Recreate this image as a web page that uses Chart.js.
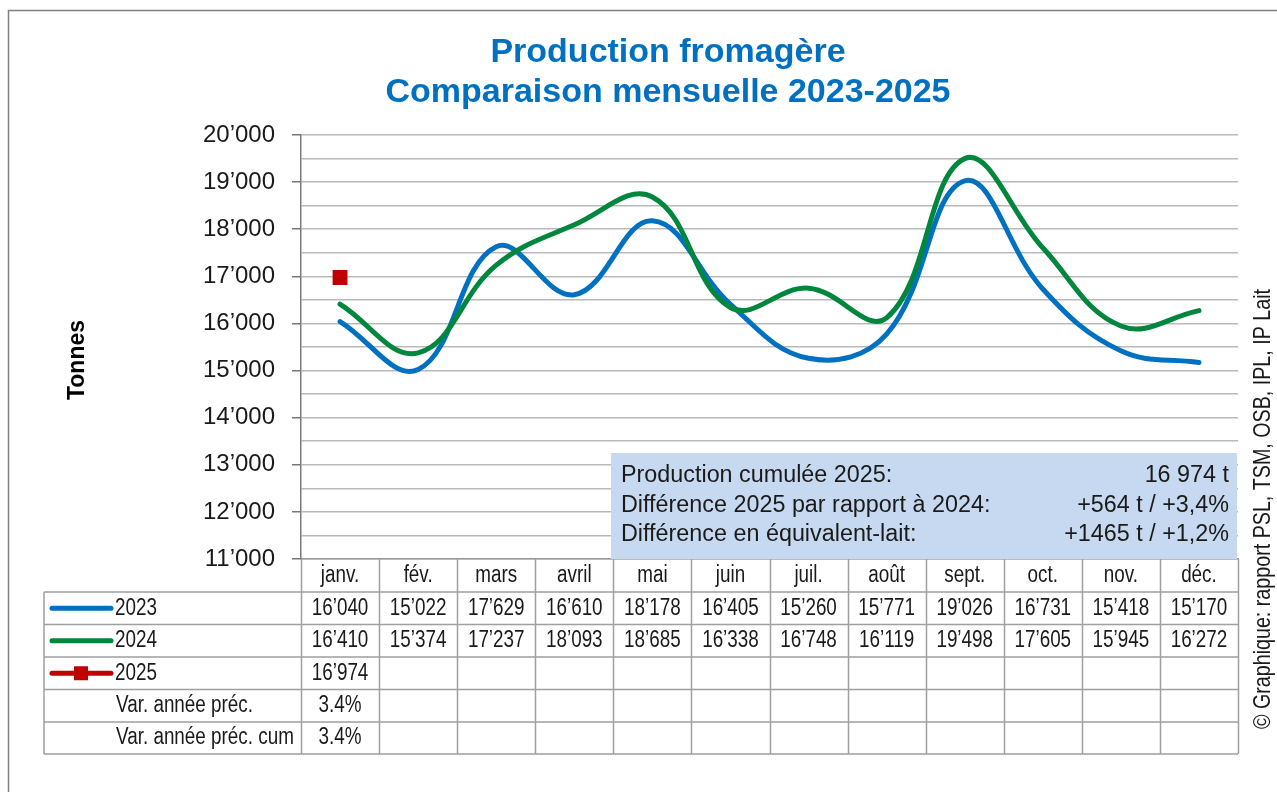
<!DOCTYPE html>
<html>
<head>
<meta charset="utf-8">
<script src="https://cdn.jsdelivr.net/npm/chart.js@4.4.1/dist/chart.umd.min.js"></script>
<style>
  html, body { margin: 0; padding: 0; background: #ffffff; }
  #wrap { width: 1277px; height: 792px; position: relative; }
</style>
</head>
<body>
<div id="wrap"><canvas id="c" width="1277" height="792"></canvas></div>
<script>
// ---------- DATA ----------
const months = ['janv.', 'fév.', 'mars', 'avril', 'mai', 'juin', 'juil.', 'août', 'sept.', 'oct.', 'nov.', 'déc.'];
const prod2023 = [16040, 15022, 17629, 16610, 18178, 16405, 15260, 15771, 19026, 16731, 15418, 15170];
const prod2024 = [16410, 15374, 17237, 18093, 18685, 16338, 16748, 16119, 19498, 17605, 15945, 16272];
const prod2025 = [16974, null, null, null, null, null, null, null, null, null, null, null];
const varPrev = ['3.4%', '', '', '', '', '', '', '', '', '', '', ''];
const varPrevCum = ['3.4%', '', '', '', '', '', '', '', '', '', '', ''];
const seriesNames = ['2023', '2024', '2025'];
const rowLabels = ['Var. année préc.', 'Var. année préc. cum'];
const yTicks = { min: 11000, max: 20000, step: 500, labelEvery: 1000 };
const titleLines = ['Production fromagère', 'Comparaison mensuelle 2023-2025'];
const yTitle = 'Tonnes';
const sourceText = '© Graphique: rapport PSL, TSM, OSB, IPL, IP Lait';
const boxLabels = ['Production cumulée 2025:', 'Différence 2025 par rapport à 2024:', 'Différence en équivalent-lait:'];
const boxValues = ['16 974 t', '+564 t / +3,4%', '+1465 t / +1,2%'];

// ---------- STYLE ----------
const C_BLUE = '#0070c0', C_GREEN = '#00873d', C_RED = '#c00000';
const GRID = '#b9b9b9', TBL = '#9f9f9f';
const FONT = '"Liberation Sans", Arial, sans-serif';

function fmt(v) {
  if (v === null || v === undefined) return '';
  const s = String(Math.round(v));
  return s.replace(/\B(?=(\d{3})+(?!\d))/g, '’');
}

// narrow font detection
const probe = document.createElement('canvas').getContext('2d');
probe.font = '20px "Liberation Sans Narrow", monospace';
const wN = probe.measureText('abcdefghijklmnop').width;
probe.font = '20px monospace';
const wM = probe.measureText('abcdefghijklmnop').width;
const HAS_NARROW = Math.abs(wN - wM) > 0.5;

function narrowText(ctx, text, x, y, size, align) {
  ctx.save();
  ctx.textAlign = align || 'left';
  ctx.textBaseline = 'middle';
  ctx.fillStyle = '#1a1a1a';
  if (HAS_NARROW) {
    ctx.font = size + 'px "Liberation Sans Narrow", "Liberation Sans", Arial, sans-serif';
    ctx.fillText(text, x, y);
  } else {
    ctx.font = size + 'px ' + FONT;
    ctx.translate(x, y);
    ctx.scale(0.82, 1);
    ctx.fillText(text, 0, 0);
  }
  ctx.restore();
}

function plainText(ctx, text, x, y, size, align, sx) {
  ctx.save();
  ctx.textAlign = align || 'left';
  ctx.textBaseline = 'middle';
  ctx.fillStyle = '#1a1a1a';
  ctx.font = size + 'px ' + FONT;
  ctx.translate(x, y);
  ctx.scale(sx || 1, 1);
  ctx.fillText(text, 0, 0);
  ctx.restore();
}

const extras = {
  id: 'extras',
  beforeDraw(chart) {
    const ctx = chart.ctx;
    ctx.save();
    ctx.fillStyle = '#ffffff';
    ctx.fillRect(0, 0, chart.width, chart.height);
    ctx.strokeStyle = '#808080';
    ctx.lineWidth = 1.5;
    ctx.beginPath();
    ctx.moveTo(8.5, 792); ctx.lineTo(8.5, 10.5); ctx.lineTo(1277, 10.5);
    ctx.stroke();
    ctx.restore();
  },
  beforeDatasetsDraw(chart) {
    const ctx = chart.ctx;
    const a = chart.chartArea;
    // info box
    const bx = 611, by = 453, bw = a.right - 1 - bx, bh = a.bottom - by;
    ctx.save();
    ctx.fillStyle = '#c6d9f1';
    ctx.fillRect(bx, by, bw, bh);
    ctx.restore();
    const rowsY = [476, 506, 535];
    boxLabels.forEach((t, i) => {
      plainText(ctx, t, 621, rowsY[i], 23, 'left', 1.015);
      plainText(ctx, boxValues[i], a.right - 9, rowsY[i], 23, 'right', 1.015);
    });
  },
  afterDraw(chart) {
    const ctx = chart.ctx;
    const a = chart.chartArea;
    const x = chart.scales.x;
    const n = months.length;
    const cw = (a.right - a.left) / n;
    const tblLeft = 44;
    const rowTops = [a.bottom, 592, 624.5, 657, 689.5, 722, 754];
    // grid of table
    ctx.save();
    ctx.strokeStyle = TBL;
    ctx.lineWidth = 1.5;
    ctx.beginPath();
    for (let r = 1; r < rowTops.length; r++) {
      ctx.moveTo(tblLeft, rowTops[r]); ctx.lineTo(a.right, rowTops[r]);
    }
    ctx.moveTo(tblLeft, rowTops[1]); ctx.lineTo(tblLeft, rowTops[6]);
    for (let i = 0; i <= n; i++) {
      const xx = Math.round(a.left + i * cw) + 0.5;
      ctx.moveTo(xx, a.bottom); ctx.lineTo(xx, rowTops[6]);
    }
    ctx.stroke();
    ctx.restore();

    const mid = r => (rowTops[r] + rowTops[r + 1]) / 2;
    // header
    months.forEach((m, i) => narrowText(ctx, m, x.getPixelForTick(i), mid(0), 23, 'center'));
    const rows = [prod2023.map(fmt), prod2024.map(fmt), prod2025.map(fmt), varPrev, varPrevCum];
    rows.forEach((vals, r) => {
      vals.forEach((v, i) => { if (v) narrowText(ctx, v, x.getPixelForTick(i), mid(r + 1), 23, 'center'); });
    });
    // legend samples
    const cols = [C_BLUE, C_GREEN, C_RED];
    ctx.save();
    cols.forEach((c, r) => {
      const yy = mid(r + 1);
      ctx.strokeStyle = c; ctx.lineWidth = 5; ctx.lineCap = 'round';
      ctx.beginPath(); ctx.moveTo(52, yy); ctx.lineTo(111, yy); ctx.stroke();
      if (r === 2) { ctx.fillStyle = c; ctx.fillRect(74, yy - 7, 14, 14); }
      narrowText(ctx, seriesNames[r], 115, yy, 23, 'left');
    });
    ctx.restore();
    rowLabels.forEach((t, k) => narrowText(ctx, t, 116, mid(4 + k), 23, 'left'));

    // y axis title
    ctx.save();
    ctx.translate(78, 360);
    ctx.rotate(-Math.PI / 2);
    ctx.font = 'bold 23px ' + FONT;
    ctx.fillStyle = '#000000';
    ctx.textAlign = 'center';
    ctx.textBaseline = 'middle';
    ctx.fillText(yTitle, 0, 0);
    ctx.restore();

    // source text rotated
    ctx.save();
    ctx.translate(1263, 509);
    ctx.rotate(-Math.PI / 2);
    narrowText(ctx, sourceText, 0, 0, 24, 'center');
    ctx.restore();
  }
};

new Chart(document.getElementById('c'), {
  type: 'line',
  data: {
    labels: months,
    datasets: [
      { label: seriesNames[0], data: prod2023, borderColor: C_BLUE, backgroundColor: C_BLUE, borderWidth: 5, pointRadius: 0, tension: 0.4, borderCapStyle: 'round', order: 2 },
      { label: seriesNames[1], data: prod2024, borderColor: C_GREEN, backgroundColor: C_GREEN, borderWidth: 5, pointRadius: 0, tension: 0.4, borderCapStyle: 'round', order: 1 },
      { label: seriesNames[2], data: prod2025, borderColor: C_RED, backgroundColor: C_RED, showLine: false, pointStyle: 'rect', pointRadius: 10.5, pointBorderWidth: 0, order: 0 }
    ]
  },
  options: {
    responsive: false,
    animation: false,
    layout: { padding: { left: 98, top: 0, right: 39, bottom: 0 } },
    plugins: {
      legend: { display: false },
      tooltip: { enabled: false },
      title: {
        display: true,
        text: titleLines,
        color: C_BLUE,
        font: { family: FONT, size: 34, weight: 'bold', lineHeight: 1.176 },
        padding: { top: 33, bottom: 22 }
      }
    },
    scales: {
      x: {
        type: 'category',
        offset: true,
        ticks: { display: false },
        grid: { display: false },
        border: { display: true, color: '#999999', width: 1.5 },
        afterFit(s) { s.height = 233; }
      },
      y: {
        min: yTicks.min,
        max: yTicks.max,
        ticks: {
          stepSize: yTicks.step,
          autoSkip: false,
          padding: 17,
          color: '#1a1a1a',
          font: { family: FONT, size: 24 },
          callback: v => (v % yTicks.labelEvery === 0 ? fmt(v) : '')
        },
        grid: {
          color: GRID,
          lineWidth: 1.5,
          tickLength: 9,
          tickColor: c => (c.tick && c.tick.value % yTicks.labelEvery === 0 ? '#777777' : 'rgba(0,0,0,0)')
        },
        border: { display: true, color: '#7a7a7a', width: 1.5 },
        afterFit(s) { s.width = 203; }
      }
    }
  },
  plugins: [extras]
});
</script>
</body>
</html>
